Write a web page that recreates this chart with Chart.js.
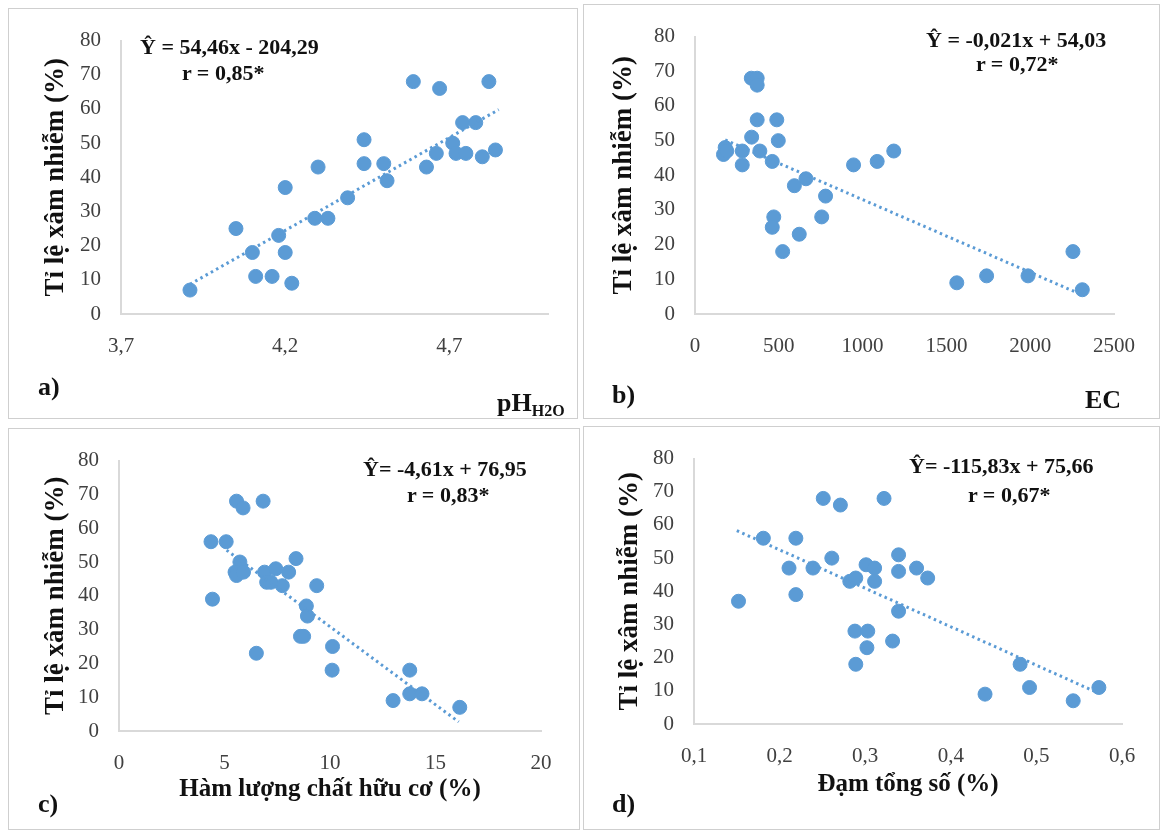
<!DOCTYPE html>
<html>
<head>
<meta charset="utf-8">
<script src="https://cdn.jsdelivr.net/npm/chart.js@4.4.1/dist/chart.umd.min.js"></script>
<style>
  body { margin: 0; background: #fff; width: 1163px; height: 834px; position: relative; overflow: hidden; font-family: 'Liberation Serif', 'Times New Roman', serif; }
  canvas { position: absolute; }
  .frame { position: absolute; border: 1.5px solid #cfcfcf; box-sizing: border-box; pointer-events: none; }
  .txt { position: absolute; font-weight: bold; color: #111; white-space: nowrap; line-height: 1; }
  .eq { font-size: 22px; }
  .lbl { font-size: 26px; }
  sub { font-size: 16px; vertical-align: -5px; }
</style>
</head>
<body>

<canvas id="chartA"></canvas>
<canvas id="chartB"></canvas>
<canvas id="chartC"></canvas>
<canvas id="chartD"></canvas>

<div class="frame" style="left:8px;top:8px;width:570px;height:411px"></div>
<div class="frame" style="left:583px;top:4px;width:577px;height:415px"></div>
<div class="frame" style="left:8px;top:428px;width:572px;height:402px"></div>
<div class="frame" style="left:583px;top:426px;width:577px;height:404px"></div>

<!-- equations -->
<div class="txt eq" style="left:140px;top:36px">Ŷ = 54,46x - 204,29</div>
<div class="txt eq" style="left:182px;top:62px">r = 0,85*</div>
<div class="txt eq" style="left:926px;top:29px">Ŷ = -0,021x + 54,03</div>
<div class="txt eq" style="left:976px;top:53px">r = 0,72*</div>
<div class="txt eq" style="left:363px;top:458px">Ŷ= -4,61x + 76,95</div>
<div class="txt eq" style="left:407px;top:484px">r = 0,83*</div>
<div class="txt eq" style="left:909px;top:455px">Ŷ= -115,83x + 75,66</div>
<div class="txt eq" style="left:968px;top:484px">r = 0,67*</div>

<!-- panel letters and axis names -->
<div class="txt lbl" style="left:38px;top:374px">a)</div>
<div class="txt lbl" style="left:612px;top:382px">b)</div>
<div class="txt lbl" style="left:38px;top:791px">c)</div>
<div class="txt lbl" style="left:612px;top:791px">d)</div>
<div class="txt lbl" style="left:497px;top:390px">pH<sub>H2O</sub></div>
<div class="txt lbl" style="left:1085px;top:387px">EC</div>

<script>
// a) pH vs infection rate
const phH2O = [3.91, 4.05, 4.10, 4.11, 4.16, 4.18, 4.20, 4.20, 4.22, 4.29, 4.30, 4.33, 4.39, 4.44, 4.44,
               4.50, 4.51, 4.59, 4.63, 4.66, 4.67, 4.71, 4.72, 4.74, 4.75, 4.78, 4.80, 4.82, 4.84];
const rateA = [7, 25, 18, 11, 11, 23, 37, 18, 9, 28, 43, 28, 34, 51, 44,
               44, 39, 68, 43, 47, 66, 50, 47, 56, 47, 56, 46, 68, 48];

// b) EC
const ecValues = [170, 180, 190, 282, 282, 336, 338, 371, 371, 371, 387, 461, 470, 461, 488,
                  497, 523, 593, 622, 662, 756, 779, 946, 1087, 1186, 1562, 1740, 1987, 2255, 2311];
const rateB = [46, 48, 47, 47, 43, 68, 51, 68, 66, 56, 47, 44, 28, 25, 56,
               50, 18, 37, 23, 39, 28, 34, 43, 44, 47, 9, 11, 11, 18, 7];

// c) organic matter
const organicMatter = [4.36, 4.43, 5.08, 5.57, 5.88, 5.73, 5.50, 5.57, 5.90, 6.83, 6.51, 6.90, 7.00, 7.43, 7.74,
                       8.04, 8.39, 8.60, 8.75, 8.88, 8.93, 9.37, 10.12, 10.10, 12.99, 13.78, 13.78, 14.36, 16.15, 7.20];
const rateC = [56, 39, 56, 68, 66, 50, 47, 46, 47, 68, 23, 47, 44, 48, 43,
               47, 51, 28, 28, 37, 34, 43, 25, 18, 9, 18, 11, 11, 7, 44];

// d) total nitrogen
const totalN = [0.152, 0.181, 0.211, 0.219, 0.219, 0.239, 0.251, 0.261, 0.271, 0.282, 0.289, 0.288, 0.289, 0.301, 0.303,
                0.302, 0.311, 0.311, 0.322, 0.332, 0.339, 0.339, 0.339, 0.360, 0.373, 0.440, 0.481, 0.492, 0.543, 0.573];
const rateD = [37, 56, 47, 56, 39, 47, 68, 50, 66, 43, 44, 28, 18, 48, 28,
               23, 47, 43, 68, 25, 51, 46, 34, 47, 44, 9, 18, 11, 7, 11];

// trendline end points as drawn
const trendA = [[3.91, 8.7], [4.85, 59.8]];
const trendB = [[180, 50.2], [2310, 5.5]];
const trendC = [[5.1, 53.5], [16.1, 2.7]];
const trendD = [[0.15, 58.3], [0.57, 9.6]];

// tick labels
const yTicks = [0, 10, 20, 30, 40, 50, 60, 70, 80];
const ticksA = [3.7, 4.2, 4.7];
const ticksB = [0, 500, 1000, 1500, 2000, 2500];
const ticksC = [0, 5, 10, 15, 20];
const ticksD = [0.1, 0.2, 0.3, 0.4, 0.5, 0.6];

const yTitle = 'Tỉ lệ xâm nhiễm (%)';
const xTitleC = 'Hàm lượng chất hữu cơ (%)';
const xTitleD = 'Đạm tổng số (%)';

const blue = '#5b9bd5';
Chart.defaults.font.family = "'Liberation Serif', 'Times New Roman', serif";

// frame: [left, top, width, height], area: [left, top, right, bottom] (page px)
const panels = [
  { id: 'chartA', frame: [8, 8, 570, 411], area: [121, 35, 548, 314], xs: phH2O, ys: rateA, trend: trendA,
    xTicks: ticksA, xMin: 3.7, xMax: 5.0, yTitleX: 56 },
  { id: 'chartB', frame: [583, 4, 577, 415], area: [695, 35, 1114, 314], xs: ecValues, ys: rateB, trend: trendB,
    xTicks: ticksB, xMin: 0, xMax: 2500, yTitleX: 624 },
  { id: 'chartC', frame: [8, 428, 572, 402], area: [119, 456, 541, 731], xs: organicMatter, ys: rateC, trend: trendC,
    xTicks: ticksC, xMin: 0, xMax: 20, yTitleX: 56, xTitle: xTitleC, xTitleY: 790 },
  { id: 'chartD', frame: [583, 426, 577, 404], area: [694, 452, 1122, 724], xs: totalN, ys: rateD, trend: trendD,
    xTicks: ticksD, xMin: 0.1, xMax: 0.6, yTitleX: 630, xTitle: xTitleD, xTitleY: 785 },
];

const fmt = v => String(v).replace('.', ',');
const titleSize = 25;
const titleLH = titleSize * 1.2;
const yTitleSize = 27;

panels.forEach(p => {
  const [fx, fy, fw, fh] = p.frame;
  const [al, at, ar, ab] = p.area;
  const cv = document.getElementById(p.id);
  cv.width = fw; cv.height = fh;
  cv.style.left = fx + 'px'; cv.style.top = fy + 'px';

  const yAxisW = al - fx;
  const xAxisH = fy + fh - ab;

  new Chart(cv, {
    type: 'scatter',
    data: {
      datasets: [
        {
          data: p.xs.map((x, i) => ({ x: x, y: p.ys[i] })),
          backgroundColor: blue,
          borderColor: blue,
          pointRadius: 7,
          pointHoverRadius: 7,
          order: 2
        },
        {
          type: 'line',
          data: p.trend.map(t => ({ x: t[0], y: t[1] })),
          borderColor: blue,
          borderWidth: 3,
          borderDash: [2.5, 3.5],
          pointRadius: 0,
          fill: false,
          order: 1
        }
      ]
    },
    options: {
      responsive: false,
      animation: false,
      events: [],
      layout: { padding: { top: at - fy, right: fx + fw - ar, left: 0, bottom: 0 } },
      plugins: { legend: { display: false }, tooltip: { enabled: false } },
      scales: {
        x: {
          type: 'linear',
          min: p.xMin,
          max: p.xMax,
          afterBuildTicks: s => { s.ticks = p.xTicks.map(v => ({ value: v })); },
          afterFit: s => { s.height = xAxisH; },
          grid: { display: false, drawTicks: false },
          border: { color: '#d9d9d9', width: 2 },
          ticks: { padding: 20, color: '#404040', font: { size: 21 }, maxRotation: 0, callback: v => fmt(v) },
          title: p.xTitle ? {
            display: true, text: p.xTitle, color: '#111',
            font: { size: titleSize, weight: 'bold' },
            padding: { top: 0, bottom: fy + fh - p.xTitleY - titleLH / 2 }
          } : { display: false }
        },
        y: {
          min: 0,
          max: 80,
          afterBuildTicks: s => { s.ticks = yTicks.map(v => ({ value: v })); },
          afterFit: s => { s.width = yAxisW; },
          grid: { display: false, drawTicks: false },
          border: { color: '#d9d9d9', width: 2 },
          ticks: { padding: 20, color: '#404040', font: { size: 21 } },
          title: {
            display: true, text: yTitle, color: '#111',
            font: { size: yTitleSize, weight: 'bold' },
            padding: { top: p.yTitleX - fx - yTitleSize * 1.2 / 2, bottom: 0 }
          }
        }
      }
    }
  });
});
</script>
</body>
</html>
